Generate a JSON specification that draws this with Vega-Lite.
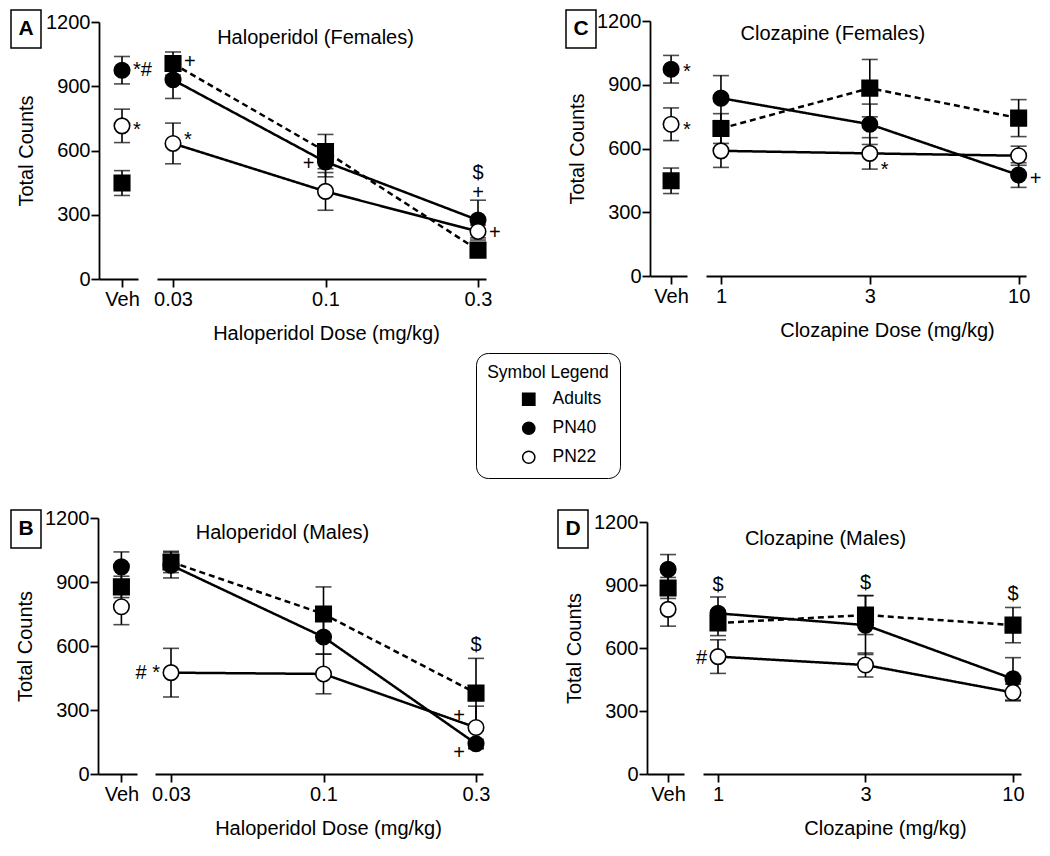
{
 "$schema": "https://vega.github.io/schema/vega-lite/v6.json",
 "padding": {"left": 10, "top": 9, "right": 5, "bottom": 5},
 "background": "white",
 "config": {
  "font": "Liberation Sans",
  "view": {"stroke": null},
  "axis": {"domainColor": "black", "domainWidth": 1.8, "tickColor": "black", "tickWidth": 1.8, "tickSize": 8, "labelFont": "Liberation Sans", "labelFontSize": 20, "labelColor": "black", "labelPadding": 2, "titleFont": "Liberation Sans", "titleFontSize": 20, "titleFontWeight": "normal", "titleColor": "black", "grid": false},
  "text": {"font": "Liberation Sans"}
 },
 "datasets": {
  "d": [
   {"p":"A","g":"Adults","d":"Veh","m":448,"e":58},
   {"p":"A","g":"PN40","d":"Veh","m":975,"e":64},
   {"p":"A","g":"PN22","d":"Veh","m":715,"e":78},
   {"p":"A","g":"Adults","d":0.03,"m":1006,"e":54},
   {"p":"A","g":"PN40","d":0.03,"m":930,"e":87},
   {"p":"A","g":"PN22","d":0.03,"m":633,"e":95},
   {"p":"A","g":"Adults","d":0.1,"m":595,"e":80},
   {"p":"A","g":"PN40","d":0.1,"m":547,"e":70},
   {"p":"A","g":"PN22","d":0.1,"m":409,"e":88},
   {"p":"A","g":"Adults","d":0.3,"m":135,"e":20},
   {"p":"A","g":"PN40","d":0.3,"m":275,"e":93},
   {"p":"A","g":"PN22","d":0.3,"m":222,"e":30},
   {"p":"C","g":"Adults","d":"Veh","m":448,"e":60},
   {"p":"C","g":"PN40","d":"Veh","m":973,"e":65},
   {"p":"C","g":"PN22","d":"Veh","m":714,"e":77},
   {"p":"C","g":"Adults","d":1,"m":694,"e":70},
   {"p":"C","g":"PN40","d":1,"m":837,"e":106},
   {"p":"C","g":"PN22","d":1,"m":589,"e":78},
   {"p":"C","g":"Adults","d":3,"m":884,"e":135},
   {"p":"C","g":"PN40","d":3,"m":714,"e":95},
   {"p":"C","g":"PN22","d":3,"m":577,"e":74},
   {"p":"C","g":"Adults","d":10,"m":743,"e":87},
   {"p":"C","g":"PN40","d":10,"m":475,"e":58},
   {"p":"C","g":"PN22","d":10,"m":566,"e":45},
   {"p":"B","g":"Adults","d":"Veh","m":877,"e":50},
   {"p":"B","g":"PN40","d":"Veh","m":971,"e":70},
   {"p":"B","g":"PN22","d":"Veh","m":784,"e":84},
   {"p":"B","g":"Adults","d":0.03,"m":994,"e":50},
   {"p":"B","g":"PN40","d":0.03,"m":979,"e":60},
   {"p":"B","g":"PN22","d":0.03,"m":475,"e":114},
   {"p":"B","g":"Adults","d":0.1,"m":750,"e":127},
   {"p":"B","g":"PN40","d":0.1,"m":642,"e":80},
   {"p":"B","g":"PN22","d":0.1,"m":469,"e":93},
   {"p":"B","g":"Adults","d":0.3,"m":379,"e":163},
   {"p":"B","g":"PN40","d":0.3,"m":142,"e":20},
   {"p":"B","g":"PN22","d":0.3,"m":218,"e":100},
   {"p":"D","g":"Adults","d":"Veh","m":886,"e":50},
   {"p":"D","g":"PN40","d":"Veh","m":975,"e":70},
   {"p":"D","g":"PN22","d":"Veh","m":784,"e":80},
   {"p":"D","g":"Adults","d":1,"m":719,"e":60},
   {"p":"D","g":"PN40","d":1,"m":765,"e":78},
   {"p":"D","g":"PN22","d":1,"m":559,"e":80},
   {"p":"D","g":"Adults","d":3,"m":757,"e":93},
   {"p":"D","g":"PN40","d":3,"m":709,"e":140},
   {"p":"D","g":"PN22","d":3,"m":519,"e":57},
   {"p":"D","g":"Adults","d":10,"m":709,"e":84},
   {"p":"D","g":"PN40","d":10,"m":453,"e":101},
   {"p":"D","g":"PN22","d":10,"m":388,"e":40}
  ],
  "ann": [
   {"p":"A","d":"Veh","y":975,"t":"*#","a":"l"},
   {"p":"A","d":"Veh","y":695,"t":"*","a":"l"},
   {"p":"A","d":0.03,"y":1013,"t":"+","a":"l"},
   {"p":"A","d":0.03,"y":648,"t":"*","a":"l"},
   {"p":"A","d":0.1,"y":536,"t":"+","a":"r"},
   {"p":"A","d":0.3,"y":401,"t":"+","a":"c"},
   {"p":"A","d":0.3,"y":493,"t":"$","a":"c"},
   {"p":"A","d":0.3,"y":214,"t":"+","a":"l"},
   {"p":"C","d":"Veh","y":961,"t":"*","a":"l"},
   {"p":"C","d":"Veh","y":687,"t":"*","a":"l"},
   {"p":"C","d":3,"y":499,"t":"*","a":"l"},
   {"p":"C","d":10,"y":456,"t":"+","a":"l"},
   {"p":"B","d":0.03,"y":475,"t":"# *","a":"r"},
   {"p":"B","d":0.3,"y":605,"t":"$","a":"c"},
   {"p":"B","d":0.3,"y":270,"t":"+","a":"r"},
   {"p":"B","d":0.3,"y":98,"t":"+","a":"r"},
   {"p":"D","d":1,"y":899,"t":"$","a":"c"},
   {"p":"D","d":3,"y":910,"t":"$","a":"c"},
   {"p":"D","d":10,"y":856,"t":"$","a":"c"},
   {"p":"D","d":1,"y":551,"t":"#","a":"r"}
  ],
  "ttl": [
   {"p":"A","d":0.1,"y":1125,"t":"Haloperidol (Females)"},
   {"p":"C","d":3,"y":1139,"t":"Clozapine (Females)"},
   {"p":"B","d":0.1,"y":1130,"t":"Haloperidol (Males)"},
   {"p":"D","d":3,"y":1119,"t":"Clozapine (Males)"}
  ]
 },
 "spacing": 165,
 "vconcat": [
  {"spacing": 64, "hconcat": [
   {"spacing": -26, "hconcat": [
    {"width": 30, "height": 38, "view": {"stroke": "black", "strokeWidth": 1.5}, "data": {"values": [{"L": "A"}]}, "mark": {"type": "text", "fontSize": 21, "fontWeight": "bold", "color": "black"}, "encoding": {"text": {"field": "L", "type": "nominal"}}},
    {"spacing": 1, "vconcat": [
     {"width": 1, "height": 1, "data": {"values": []}, "mark": "point"},
     {"spacing": 1, "hconcat": [
      {"width": 39, "height": 257,
       "encoding": {
        "x": {"field": "d", "type": "nominal", "scale": {"type": "point", "domain": ["Veh"], "padding": 0.5, "align": 0.59}, "axis": {"title": null, "labelAngle": 0}},
        "y": {"field": "m", "type": "quantitative", "scale": {"domain": [0, 1200], "nice": false}, "axis": {"title": "Total Counts", "values": [0, 300, 600, 900, 1200], "format": "d", "labelPadding": 1, "titlePadding": 9}}
       },
       "layer": [
        {"data": {"name": "d"}, "transform": [{"filter": "datum.p === 'A' && datum.d === 'Veh'"}], "mark": {"type": "errorbar", "ticks": {"size": 16}, "thickness": 1.6, "color": "black"}, "encoding": {"yError": {"field": "e"}}},
        {"data": {"name": "d"}, "transform": [{"filter": "datum.p === 'A' && datum.d === 'Veh'"}], "mark": {"type": "point", "filled": true, "size": 240, "strokeWidth": 1.6, "opacity": 1},
         "encoding": {
          "shape": {"field": "g", "type": "nominal", "scale": {"domain": ["Adults", "PN40", "PN22"], "range": ["square", "circle", "circle"]}, "legend": {"title": "Symbol Legend", "orient": "none", "legendX": 465, "legendY": 343, "titleAnchor": "middle", "titleFontSize": 17.5, "titleFontWeight": "normal", "titleColor": "black", "titlePadding": 9, "labelFontSize": 17.5, "labelColor": "black", "labelOffset": 15, "symbolOffset": 26, "symbolSize": 150, "symbolStrokeWidth": 1.5, "rowPadding": 10, "padding": 11, "strokeColor": "black", "cornerRadius": 12}},
          "fill": {"field": "g", "type": "nominal", "scale": {"domain": ["Adults", "PN40", "PN22"], "range": ["black", "black", "white"]}, "legend": {"title": "Symbol Legend", "orient": "none", "legendX": 465, "legendY": 343, "titleAnchor": "middle", "titleFontSize": 17.5, "titleFontWeight": "normal", "titleColor": "black", "titlePadding": 9, "labelFontSize": 17.5, "labelColor": "black", "labelOffset": 15, "symbolOffset": 26, "symbolSize": 150, "symbolStrokeWidth": 1.5, "rowPadding": 10, "padding": 11, "strokeColor": "black", "cornerRadius": 12}},
          "stroke": {"field": "g", "type": "nominal", "scale": {"domain": ["Adults", "PN40", "PN22"], "range": ["black", "black", "black"]}, "legend": {"title": "Symbol Legend", "orient": "none", "legendX": 465, "legendY": 343, "titleAnchor": "middle", "titleFontSize": 17.5, "titleFontWeight": "normal", "titleColor": "black", "titlePadding": 9, "labelFontSize": 17.5, "labelColor": "black", "labelOffset": 15, "symbolOffset": 26, "symbolSize": 150, "symbolStrokeWidth": 1.5, "rowPadding": 10, "padding": 11, "strokeColor": "black", "cornerRadius": 12}}
         }},
        {"data": {"name": "ann"}, "transform": [{"filter": "datum.p === 'A' && datum.d === 'Veh'"}], "mark": {"type": "text", "align": "left", "dx": 11, "fontSize": 20, "color": "black"}, "encoding": {"y": {"field": "y", "type": "quantitative"}, "text": {"field": "t"}}}
       ]},
      {"width": 329, "height": 257,
       "encoding": {
        "x": {"field": "d", "type": "ordinal", "scale": {"type": "point", "domain": [0.03, 0.1, 0.3], "padding": 0.0787, "align": 0.667}, "axis": {"title": "Haloperidol Dose (mg/kg)", "labelAngle": 0, "titleX": 169, "titlePadding": 14}},
        "y": {"field": "m", "type": "quantitative", "scale": {"domain": [0, 1200], "nice": false}, "axis": null}
       },
       "layer": [
        {"data": {"name": "ttl"}, "transform": [{"filter": "datum.p === 'A'"}], "mark": {"type": "text", "align": "center", "baseline": "middle", "dx": -10, "fontSize": 20, "color": "black"}, "encoding": {"y": {"field": "y", "type": "quantitative"}, "text": {"field": "t"}}},
        {"data": {"name": "d"}, "transform": [{"filter": "datum.p === 'A' && datum.d !== 'Veh'"}], "mark": {"type": "line", "color": "black", "strokeWidth": 2.5}, "encoding": {"detail": {"field": "g", "type": "nominal"}, "strokeDash": {"condition": {"test": "datum.g === 'Adults'", "value": [6, 4]}, "value": [1, 0]}}},
        {"data": {"name": "d"}, "transform": [{"filter": "datum.p === 'A' && datum.d !== 'Veh'"}], "mark": {"type": "errorbar", "ticks": {"size": 16}, "thickness": 1.6, "color": "black"}, "encoding": {"yError": {"field": "e"}}},
        {"data": {"name": "d"}, "transform": [{"filter": "datum.p === 'A' && datum.d !== 'Veh'"}], "mark": {"type": "point", "filled": true, "size": 240, "strokeWidth": 1.6, "opacity": 1},
         "encoding": {
          "shape": {"field": "g", "type": "nominal", "scale": {"domain": ["Adults", "PN40", "PN22"], "range": ["square", "circle", "circle"]}},
          "fill": {"field": "g", "type": "nominal", "scale": {"domain": ["Adults", "PN40", "PN22"], "range": ["black", "black", "white"]}},
          "stroke": {"field": "g", "type": "nominal", "scale": {"domain": ["Adults", "PN40", "PN22"], "range": ["black", "black", "black"]}}
         }},
        {"data": {"name": "ann"}, "transform": [{"filter": "datum.p === 'A' && datum.d !== 'Veh' && datum.a === 'l'"}], "mark": {"type": "text", "align": "left", "dx": 11, "fontSize": 20, "color": "black"}, "encoding": {"y": {"field": "y", "type": "quantitative"}, "text": {"field": "t"}}},
        {"data": {"name": "ann"}, "transform": [{"filter": "datum.p === 'A' && datum.d !== 'Veh' && datum.a === 'r'"}], "mark": {"type": "text", "align": "right", "dx": -11, "fontSize": 20, "color": "black"}, "encoding": {"y": {"field": "y", "type": "quantitative"}, "text": {"field": "t"}}},
        {"data": {"name": "ann"}, "transform": [{"filter": "datum.p === 'A' && datum.d !== 'Veh' && datum.a === 'c'"}], "mark": {"type": "text", "align": "center", "fontSize": 20, "color": "black"}, "encoding": {"y": {"field": "y", "type": "quantitative"}, "text": {"field": "t"}}}
       ]}
     ]}
    ]}
   ]},
   {"spacing": -30, "hconcat": [
    {"width": 30, "height": 38, "view": {"stroke": "black", "strokeWidth": 1.5}, "data": {"values": [{"L": "C"}]}, "mark": {"type": "text", "fontSize": 21, "fontWeight": "bold", "color": "black"}, "encoding": {"text": {"field": "L", "type": "nominal"}}},
    {"spacing": 0, "vconcat": [
     {"width": 1, "height": 1, "data": {"values": []}, "mark": "point"},
     {"spacing": 15, "hconcat": [
      {"width": 37, "height": 255,
       "encoding": {
        "x": {"field": "d", "type": "nominal", "scale": {"type": "point", "domain": ["Veh"], "padding": 0.5, "align": 0.57}, "axis": {"title": null, "labelAngle": 0}},
        "y": {"field": "m", "type": "quantitative", "scale": {"domain": [0, 1200], "nice": false}, "axis": {"title": "Total Counts", "values": [0, 300, 600, 900, 1200], "format": "d", "labelPadding": 1, "titlePadding": 9}}
       },
       "layer": [
        {"data": {"name": "d"}, "transform": [{"filter": "datum.p === 'C' && datum.d === 'Veh'"}], "mark": {"type": "errorbar", "ticks": {"size": 16}, "thickness": 1.6, "color": "black"}, "encoding": {"yError": {"field": "e"}}},
        {"data": {"name": "d"}, "transform": [{"filter": "datum.p === 'C' && datum.d === 'Veh'"}], "mark": {"type": "point", "filled": true, "size": 240, "strokeWidth": 1.6, "opacity": 1},
         "encoding": {
          "shape": {"field": "g", "type": "nominal", "scale": {"domain": ["Adults", "PN40", "PN22"], "range": ["square", "circle", "circle"]}},
          "fill": {"field": "g", "type": "nominal", "scale": {"domain": ["Adults", "PN40", "PN22"], "range": ["black", "black", "white"]}},
          "stroke": {"field": "g", "type": "nominal", "scale": {"domain": ["Adults", "PN40", "PN22"], "range": ["black", "black", "black"]}}
         }},
        {"data": {"name": "ann"}, "transform": [{"filter": "datum.p === 'C' && datum.d === 'Veh'"}], "mark": {"type": "text", "align": "left", "dx": 12, "fontSize": 20, "color": "black"}, "encoding": {"y": {"field": "y", "type": "quantitative"}, "text": {"field": "t"}}}
       ]},
      {"width": 320, "height": 255,
       "encoding": {
        "x": {"field": "d", "type": "ordinal", "scale": {"type": "point", "domain": [1, 3, 10], "padding": 0.075, "align": 0.67}, "axis": {"title": "Clozapine Dose (mg/kg)", "labelAngle": 0, "titleX": 181, "titlePadding": 14}},
        "y": {"field": "m", "type": "quantitative", "scale": {"domain": [0, 1200], "nice": false}, "axis": null}
       },
       "layer": [
        {"data": {"name": "ttl"}, "transform": [{"filter": "datum.p === 'C'"}], "mark": {"type": "text", "align": "center", "baseline": "middle", "dx": -37, "fontSize": 20, "color": "black"}, "encoding": {"y": {"field": "y", "type": "quantitative"}, "text": {"field": "t"}}},
        {"data": {"name": "d"}, "transform": [{"filter": "datum.p === 'C' && datum.d !== 'Veh'"}], "mark": {"type": "line", "color": "black", "strokeWidth": 2.5}, "encoding": {"detail": {"field": "g", "type": "nominal"}, "strokeDash": {"condition": {"test": "datum.g === 'Adults'", "value": [6, 4]}, "value": [1, 0]}}},
        {"data": {"name": "d"}, "transform": [{"filter": "datum.p === 'C' && datum.d !== 'Veh'"}], "mark": {"type": "errorbar", "ticks": {"size": 16}, "thickness": 1.6, "color": "black"}, "encoding": {"yError": {"field": "e"}}},
        {"data": {"name": "d"}, "transform": [{"filter": "datum.p === 'C' && datum.d !== 'Veh'"}], "mark": {"type": "point", "filled": true, "size": 240, "strokeWidth": 1.6, "opacity": 1},
         "encoding": {
          "shape": {"field": "g", "type": "nominal", "scale": {"domain": ["Adults", "PN40", "PN22"], "range": ["square", "circle", "circle"]}},
          "fill": {"field": "g", "type": "nominal", "scale": {"domain": ["Adults", "PN40", "PN22"], "range": ["black", "black", "white"]}},
          "stroke": {"field": "g", "type": "nominal", "scale": {"domain": ["Adults", "PN40", "PN22"], "range": ["black", "black", "black"]}}
         }},
        {"data": {"name": "ann"}, "transform": [{"filter": "datum.p === 'C' && datum.d !== 'Veh' && datum.a === 'l'"}], "mark": {"type": "text", "align": "left", "dx": 11, "fontSize": 20, "color": "black"}, "encoding": {"y": {"field": "y", "type": "quantitative"}, "text": {"field": "t"}}}
       ]}
     ]}
    ]}
   ]}
  ]},
  {"spacing": 67, "hconcat": [
   {"spacing": -27, "hconcat": [
    {"width": 30, "height": 38, "view": {"stroke": "black", "strokeWidth": 1.5}, "data": {"values": [{"L": "B"}]}, "mark": {"type": "text", "fontSize": 21, "fontWeight": "bold", "color": "black"}, "encoding": {"text": {"field": "L", "type": "nominal"}}},
    {"spacing": -3, "vconcat": [
     {"width": 1, "height": 1, "data": {"values": []}, "mark": "point"},
     {"spacing": -4, "hconcat": [
      {"width": 39, "height": 256,
       "encoding": {
        "x": {"field": "d", "type": "nominal", "scale": {"type": "point", "domain": ["Veh"], "padding": 0.5, "align": 0.6}, "axis": {"title": null, "labelAngle": 0}},
        "y": {"field": "m", "type": "quantitative", "scale": {"domain": [0, 1200], "nice": false}, "axis": {"title": "Total Counts", "values": [0, 300, 600, 900, 1200], "format": "d", "labelPadding": 1, "titlePadding": 9}}
       },
       "layer": [
        {"data": {"name": "d"}, "transform": [{"filter": "datum.p === 'B' && datum.d === 'Veh'"}], "mark": {"type": "errorbar", "ticks": {"size": 16}, "thickness": 1.6, "color": "black"}, "encoding": {"yError": {"field": "e"}}},
        {"data": {"name": "d"}, "transform": [{"filter": "datum.p === 'B' && datum.d === 'Veh'"}], "mark": {"type": "point", "filled": true, "size": 240, "strokeWidth": 1.6, "opacity": 1},
         "encoding": {
          "shape": {"field": "g", "type": "nominal", "scale": {"domain": ["Adults", "PN40", "PN22"], "range": ["square", "circle", "circle"]}},
          "fill": {"field": "g", "type": "nominal", "scale": {"domain": ["Adults", "PN40", "PN22"], "range": ["black", "black", "white"]}},
          "stroke": {"field": "g", "type": "nominal", "scale": {"domain": ["Adults", "PN40", "PN22"], "range": ["black", "black", "black"]}}
         }}
       ]},
      {"width": 328, "height": 256,
       "encoding": {
        "x": {"field": "d", "type": "ordinal", "scale": {"type": "point", "domain": [0.03, 0.1, 0.3], "padding": 0.0754, "align": 0.696}, "axis": {"title": "Haloperidol Dose (mg/kg)", "labelAngle": 0, "titleX": 173, "titlePadding": 14}},
        "y": {"field": "m", "type": "quantitative", "scale": {"domain": [0, 1200], "nice": false}, "axis": null}
       },
       "layer": [
        {"data": {"name": "ttl"}, "transform": [{"filter": "datum.p === 'B'"}], "mark": {"type": "text", "align": "center", "baseline": "middle", "dx": -41, "fontSize": 20, "color": "black"}, "encoding": {"y": {"field": "y", "type": "quantitative"}, "text": {"field": "t"}}},
        {"data": {"name": "d"}, "transform": [{"filter": "datum.p === 'B' && datum.d !== 'Veh'"}], "mark": {"type": "line", "color": "black", "strokeWidth": 2.5}, "encoding": {"detail": {"field": "g", "type": "nominal"}, "strokeDash": {"condition": {"test": "datum.g === 'Adults'", "value": [6, 4]}, "value": [1, 0]}}},
        {"data": {"name": "d"}, "transform": [{"filter": "datum.p === 'B' && datum.d !== 'Veh'"}], "mark": {"type": "errorbar", "ticks": {"size": 16}, "thickness": 1.6, "color": "black"}, "encoding": {"yError": {"field": "e"}}},
        {"data": {"name": "d"}, "transform": [{"filter": "datum.p === 'B' && datum.d !== 'Veh'"}], "mark": {"type": "point", "filled": true, "size": 240, "strokeWidth": 1.6, "opacity": 1},
         "encoding": {
          "shape": {"field": "g", "type": "nominal", "scale": {"domain": ["Adults", "PN40", "PN22"], "range": ["square", "circle", "circle"]}},
          "fill": {"field": "g", "type": "nominal", "scale": {"domain": ["Adults", "PN40", "PN22"], "range": ["black", "black", "white"]}},
          "stroke": {"field": "g", "type": "nominal", "scale": {"domain": ["Adults", "PN40", "PN22"], "range": ["black", "black", "black"]}}
         }},
        {"data": {"name": "ann"}, "transform": [{"filter": "datum.p === 'B' && datum.d !== 'Veh' && datum.a === 'r'"}], "mark": {"type": "text", "align": "right", "dx": -11, "fontSize": 20, "color": "black"}, "encoding": {"y": {"field": "y", "type": "quantitative"}, "text": {"field": "t"}}},
        {"data": {"name": "ann"}, "transform": [{"filter": "datum.p === 'B' && datum.d !== 'Veh' && datum.a === 'c'"}], "mark": {"type": "text", "align": "center", "fontSize": 20, "color": "black"}, "encoding": {"y": {"field": "y", "type": "quantitative"}, "text": {"field": "t"}}}
       ]}
     ]}
    ]}
   ]},
   {"spacing": -25, "hconcat": [
    {"width": 30, "height": 38, "view": {"stroke": "black", "strokeWidth": 1.5}, "data": {"values": [{"L": "D"}]}, "mark": {"type": "text", "fontSize": 21, "fontWeight": "bold", "color": "black"}, "encoding": {"text": {"field": "L", "type": "nominal"}}},
    {"spacing": 1, "vconcat": [
     {"width": 1, "height": 1, "data": {"values": []}, "mark": "point"},
     {"spacing": 9, "hconcat": [
      {"width": 37, "height": 252,
       "encoding": {
        "x": {"field": "d", "type": "nominal", "scale": {"type": "point", "domain": ["Veh"], "padding": 0.5, "align": 0.57}, "axis": {"title": null, "labelAngle": 0}},
        "y": {"field": "m", "type": "quantitative", "scale": {"domain": [0, 1200], "nice": false}, "axis": {"title": "Total Counts", "values": [0, 300, 600, 900, 1200], "format": "d", "labelPadding": 1, "titlePadding": 9}}
       },
       "layer": [
        {"data": {"name": "d"}, "transform": [{"filter": "datum.p === 'D' && datum.d === 'Veh'"}], "mark": {"type": "errorbar", "ticks": {"size": 16}, "thickness": 1.6, "color": "black"}, "encoding": {"yError": {"field": "e"}}},
        {"data": {"name": "d"}, "transform": [{"filter": "datum.p === 'D' && datum.d === 'Veh'"}], "mark": {"type": "point", "filled": true, "size": 240, "strokeWidth": 1.6, "opacity": 1},
         "encoding": {
          "shape": {"field": "g", "type": "nominal", "scale": {"domain": ["Adults", "PN40", "PN22"], "range": ["square", "circle", "circle"]}},
          "fill": {"field": "g", "type": "nominal", "scale": {"domain": ["Adults", "PN40", "PN22"], "range": ["black", "black", "white"]}},
          "stroke": {"field": "g", "type": "nominal", "scale": {"domain": ["Adults", "PN40", "PN22"], "range": ["black", "black", "black"]}}
         }}
       ]},
      {"width": 318, "height": 252,
       "encoding": {
        "x": {"field": "d", "type": "ordinal", "scale": {"type": "point", "domain": [1, 3, 10], "padding": 0.078, "align": 0.652}, "axis": {"title": "Clozapine (mg/kg)", "labelAngle": 0, "titleX": 182, "titlePadding": 14}},
        "y": {"field": "m", "type": "quantitative", "scale": {"domain": [0, 1200], "nice": false}, "axis": null}
       },
       "layer": [
        {"data": {"name": "ttl"}, "transform": [{"filter": "datum.p === 'D'"}], "mark": {"type": "text", "align": "center", "baseline": "middle", "dx": -40, "fontSize": 20, "color": "black"}, "encoding": {"y": {"field": "y", "type": "quantitative"}, "text": {"field": "t"}}},
        {"data": {"name": "d"}, "transform": [{"filter": "datum.p === 'D' && datum.d !== 'Veh'"}], "mark": {"type": "line", "color": "black", "strokeWidth": 2.5}, "encoding": {"detail": {"field": "g", "type": "nominal"}, "strokeDash": {"condition": {"test": "datum.g === 'Adults'", "value": [6, 4]}, "value": [1, 0]}}},
        {"data": {"name": "d"}, "transform": [{"filter": "datum.p === 'D' && datum.d !== 'Veh'"}], "mark": {"type": "errorbar", "ticks": {"size": 16}, "thickness": 1.6, "color": "black"}, "encoding": {"yError": {"field": "e"}}},
        {"data": {"name": "d"}, "transform": [{"filter": "datum.p === 'D' && datum.d !== 'Veh'"}], "mark": {"type": "point", "filled": true, "size": 240, "strokeWidth": 1.6, "opacity": 1},
         "encoding": {
          "shape": {"field": "g", "type": "nominal", "scale": {"domain": ["Adults", "PN40", "PN22"], "range": ["square", "circle", "circle"]}},
          "fill": {"field": "g", "type": "nominal", "scale": {"domain": ["Adults", "PN40", "PN22"], "range": ["black", "black", "white"]}},
          "stroke": {"field": "g", "type": "nominal", "scale": {"domain": ["Adults", "PN40", "PN22"], "range": ["black", "black", "black"]}}
         }},
        {"data": {"name": "ann"}, "transform": [{"filter": "datum.p === 'D' && datum.d !== 'Veh' && datum.a === 'r'"}], "mark": {"type": "text", "align": "right", "dx": -11, "fontSize": 20, "color": "black"}, "encoding": {"y": {"field": "y", "type": "quantitative"}, "text": {"field": "t"}}},
        {"data": {"name": "ann"}, "transform": [{"filter": "datum.p === 'D' && datum.d !== 'Veh' && datum.a === 'c'"}], "mark": {"type": "text", "align": "center", "fontSize": 20, "color": "black"}, "encoding": {"y": {"field": "y", "type": "quantitative"}, "text": {"field": "t"}}}
       ]}
     ]}
    ]}
   ]}
  ]}
 ]
}
